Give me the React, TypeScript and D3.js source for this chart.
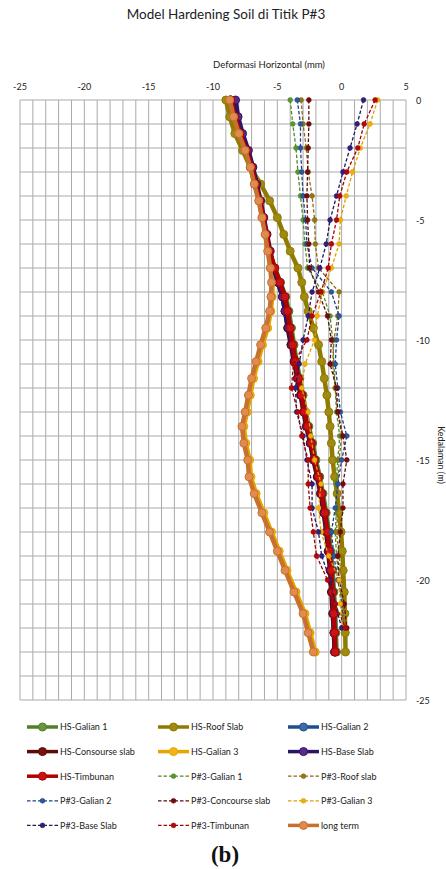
import { useMemo } from "react";
import * as d3 from "d3";

const WIDTH = 446;
const HEIGHT = 869;
const PLOT = { left: 20, right: 406, top: 100, bottom: 700 };
const FONT = "Lato, 'Open Sans', sans-serif";

// depth (m) of the PLAXIS nodes and of the inclinometer readings
const HS_DEPTH = [0, -0.7, -1.4, -2.1, -2.8, -3.5, -4.2, -4.9, -5.6, -6.3, -7.0, -7.6, -8.2, -8.8, -9.5, -10.2, -10.9, -11.6, -12.3, -13.0, -13.6, -14.3, -15.0, -15.7, -16.4, -17.2, -18.0, -18.8, -19.6, -20.5, -21.4, -22.2, -23.0];
const P3_DEPTH = [0, -1, -2, -3, -4, -5, -6, -7, -8, -9, -10, -11, -12, -13, -14, -15, -16, -17, -18, -19, -20, -21, -22];

// horizontal deformation (mm)
const HS_GALIAN1 = [-8.7, -8.4, -8.0, -7.5, -7.1, -6.75, -6.4, -6.15, -5.9, -5.6, -5.2, -4.75, -4.35, -4.1, -3.9, -3.7, -3.5, -3.25, -3.0, -2.8, -2.55, -2.25, -2.0, -1.7, -1.45, -1.2, -1.0, -0.85, -0.7, -0.6, -0.5, -0.45, -0.4];
const HS_ROOF_SLAB = [-9.0, -8.7, -8.3, -7.7, -7.1, -6.3, -5.6, -5.0, -4.5, -4.0, -3.4, -3.1, -2.9, -2.6, -2.2, -1.8, -1.55, -1.35, -1.15, -1.0, -0.9, -0.8, -0.7, -0.55, -0.35, -0.2, -0.05, 0.05, 0.12, 0.2, 0.25, 0.28, 0.3];
const HS_GALIAN2 = [-8.6, -8.3, -7.9, -7.45, -7.05, -6.7, -6.35, -6.1, -5.85, -5.6, -5.25, -4.85, -4.45, -4.25, -4.05, -3.85, -3.6, -3.35, -3.1, -2.9, -2.65, -2.35, -2.1, -1.8, -1.55, -1.3, -1.1, -0.95, -0.8, -0.7, -0.6, -0.55, -0.5];
const HS_CONCOURSE = [-8.65, -8.35, -7.95, -7.45, -7.05, -6.75, -6.4, -6.15, -5.9, -5.65, -5.3, -4.95, -4.6, -4.4, -4.2, -3.95, -3.7, -3.45, -3.2, -2.95, -2.75, -2.45, -2.2, -1.9, -1.65, -1.4, -1.2, -1.05, -0.9, -0.8, -0.7, -0.6, -0.55];
const HS_GALIAN3 = [-8.6, -8.3, -7.9, -7.4, -7.0, -6.7, -6.35, -6.1, -5.85, -5.65, -5.45, -5.35, -5.4, -5.5, -5.75, -6.15, -6.5, -6.85, -7.1, -7.35, -7.6, -7.45, -7.15, -7.05, -6.65, -6.05, -5.45, -4.85, -4.25, -3.55, -2.85, -2.45, -2.05];
const HS_BASE_SLAB = [-8.25, -8.05, -7.7, -7.25, -6.9, -6.6, -6.3, -6.05, -5.8, -5.55, -5.3, -4.95, -4.6, -4.4, -4.15, -3.9, -3.65, -3.4, -3.15, -2.95, -2.7, -2.4, -2.15, -1.85, -1.6, -1.35, -1.15, -1.0, -0.85, -0.75, -0.65, -0.6, -0.55];
const HS_TIMBUNAN = [-8.6, -8.3, -7.9, -7.4, -7.0, -6.7, -6.35, -6.1, -5.85, -5.6, -5.2, -4.8, -4.4, -4.2, -4.0, -3.8, -3.6, -3.35, -3.1, -2.9, -2.65, -2.35, -2.1, -1.8, -1.55, -1.3, -1.1, -0.95, -0.8, -0.7, -0.6, -0.55, -0.5];
const LONG_TERM = [-8.7, -8.4, -8.0, -7.5, -7.1, -6.8, -6.45, -6.2, -5.95, -5.75, -5.55, -5.45, -5.5, -5.6, -5.9, -6.3, -6.65, -7.0, -7.25, -7.5, -7.75, -7.6, -7.3, -7.2, -6.8, -6.2, -5.6, -5.0, -4.4, -3.7, -3.0, -2.6, -2.2];

const P3_GALIAN1 = [-4.0, -3.8, -3.55, -3.4, -3.2, -3.0, -2.85, -2.65, -1.5, -0.9, -0.7, -0.6, -0.5, -0.4, -0.15, -0.3, -0.45, -0.4, -0.5, -0.4, -0.2, 0.0, 0.1];
const P3_ROOF_SLAB = [-3.15, -3.0, -2.75, -2.6, -2.3, -2.1, -2.05, -1.8, -0.2, -0.3, -0.6, -0.7, -0.5, -0.3, 0.0, -0.2, -0.3, -0.3, -0.4, -0.2, 0.0, 0.1, 0.2];
const P3_GALIAN2 = [-3.45, -3.2, -3.2, -3.1, -3.0, -2.8, -2.7, -2.3, -0.8, -0.2, -0.4, -0.5, -0.3, -0.1, 0.4, 0.0, -0.3, -0.5, -0.8, -0.6, -0.3, 0.0, 0.1];
const P3_CONCOURSE = [-2.55, -2.55, -2.6, -2.65, -2.7, -2.65, -2.55, -2.5, -1.8, -1.1, -0.8, -0.9, -0.4, -0.3, 0.1, 0.4, 0.1, 0.1, -0.1, -0.3, -0.2, 0.2, 0.4];
const P3_GALIAN3 = [2.8, 2.2, 1.45, 0.85, 0.35, -0.1, -0.2, -0.8, -1.5, -1.9, -2.1, -2.85, -3.1, -2.6, -2.4, -2.1, -1.6, -1.8, -1.6, -1.0, -0.2, -0.1, 0.1];
const P3_BASE_SLAB = [1.7, 1.2, 0.65, 0.1, -0.4, -0.9, -1.2, -1.7, -2.3, -2.6, -3.0, -3.3, -3.6, -3.5, -3.0, -2.7, -2.3, -2.3, -1.8, -1.55, -0.9, -0.5, 0.0];
const P3_TIMBUNAN = [2.6, 1.75, 1.25, 0.4, -0.15, -0.4, -0.8, -1.05, -1.6, -2.3, -2.7, -3.75, -3.9, -3.4, -3.1, -2.6, -2.6, -2.45, -2.2, -1.95, -1.1, -0.5, 0.3];

const X_TICKS = [-25, -20, -15, -10, -5, 0, 5];
const Y_TICKS = [0, -5, -10, -15, -20, -25];

// legend order = drawing order
const SERIES = [
  { name: "HS-Galian 1", values: HS_GALIAN1, depth: HS_DEPTH, kind: "hs", line: "#4f7f27", marker: "#6b9440" },
  { name: "HS-Roof Slab", values: HS_ROOF_SLAB, depth: HS_DEPTH, kind: "hs", line: "#8f7b00", marker: "#a08a12" },
  { name: "HS-Galian 2", values: HS_GALIAN2, depth: HS_DEPTH, kind: "hs", line: "#1f4e8c", marker: "#3b6ea5" },
  { name: "HS-Consourse slab", values: HS_CONCOURSE, depth: HS_DEPTH, kind: "hs", line: "#5c0a0a", marker: "#7a1010" },
  { name: "HS-Galian 3", values: HS_GALIAN3, depth: HS_DEPTH, kind: "hs", line: "#e6a600", marker: "#f2b31a" },
  { name: "HS-Base Slab", values: HS_BASE_SLAB, depth: HS_DEPTH, kind: "hs", line: "#2a1666", marker: "#5a2a8a" },
  { name: "HS-Timbunan", values: HS_TIMBUNAN, depth: HS_DEPTH, kind: "hs", line: "#b00000", marker: "#c81414" },
  { name: "P#3-Galian 1", values: P3_GALIAN1, depth: P3_DEPTH, kind: "p3", line: "#4f8a2b", marker: "#5a9630" },
  { name: "P#3-Roof slab", values: P3_ROOF_SLAB, depth: P3_DEPTH, kind: "p3", line: "#8a6a14", marker: "#8f7a10" },
  { name: "P#3-Galian 2", values: P3_GALIAN2, depth: P3_DEPTH, kind: "p3", line: "#1f3f86", marker: "#2a5a9a" },
  { name: "P#3-Concourse slab", values: P3_CONCOURSE, depth: P3_DEPTH, kind: "p3", line: "#5a0d0d", marker: "#7a0a0a" },
  { name: "P#3-Galian 3", values: P3_GALIAN3, depth: P3_DEPTH, kind: "p3", line: "#e0a000", marker: "#eeb010" },
  { name: "P#3-Base Slab", values: P3_BASE_SLAB, depth: P3_DEPTH, kind: "p3", line: "#1a1a5c", marker: "#3c1a80" },
  { name: "P#3-Timbunan", values: P3_TIMBUNAN, depth: P3_DEPTH, kind: "p3", line: "#a30000", marker: "#b00a0a" },
  { name: "long term", values: LONG_TERM, depth: HS_DEPTH, kind: "hs", line: "#c8712f", marker: "#e08b50" },
];

const LEGEND_COLS = [27, 158, 288];
const LEGEND_TOP = 727;
const LEGEND_ROW = 24.6;

function Marker({ cx, cy, kind, s }) {
  const hs = kind === "hs";
  return <circle cx={cx} cy={cy} r={hs ? 4 : 2.4} fill={s.marker} stroke={s.line} strokeWidth={hs ? 1 : 0.6} />;
}

export default function App() {
  const x = useMemo(() => d3.scaleLinear().domain([-25, 5]).range([PLOT.left, PLOT.right]), []);
  const y = useMemo(() => d3.scaleLinear().domain([0, -25]).range([PLOT.top, PLOT.bottom]), []);
  const xGrid = useMemo(() => d3.range(-25, 5.001, 1), []);
  const yGrid = useMemo(() => d3.range(0, -25.001, -1), []);

  const paths = useMemo(
    () =>
      SERIES.map((s) => {
        const pts = s.values.map((v, i) => [x(v), y(s.depth[i])]);
        return { s, pts, d: d3.line()(pts) };
      }),
    [x, y],
  );

  return (
    <svg width={WIDTH} height={HEIGHT} style={{ position: "absolute", left: 0, top: 0, background: "#fff" }} fontFamily={FONT}>
      <rect width={WIDTH} height={HEIGHT} fill="#fff" />
      <text x={226} y={19} textAnchor="middle" fontSize={13.5} fill="#222">
        Model Hardening Soil di Titik P#3
      </text>
      <text x={269} y={68} textAnchor="middle" fontSize={9.5} fill="#222">
        Deformasi Horizontal (mm)
      </text>

      {xGrid.map((v) => (
        <line key={`gx${v}`} x1={x(v)} x2={x(v)} y1={PLOT.top} y2={PLOT.bottom} stroke="#a9a9a9" strokeWidth={1} />
      ))}
      {yGrid.map((v) => (
        <line key={`gy${v}`} x1={PLOT.left} x2={PLOT.right} y1={y(v)} y2={y(v)} stroke="#a9a9a9" strokeWidth={1} />
      ))}

      {X_TICKS.map((t) => (
        <text key={`xt${t}`} x={x(t)} y={90} textAnchor="middle" fontSize={9} fill="#222">
          {t}
        </text>
      ))}
      {Y_TICKS.map((t) => (
        <text key={`yt${t}`} x={416} y={y(t) + 3.5} fontSize={9} fill="#222">
          {t}
        </text>
      ))}
      <text transform={`translate(438 455) rotate(90)`} textAnchor="middle" fontSize={9} fill="#222">
        Kedalaman (m)
      </text>

      {paths.map(({ s, pts, d }) => (
        <g key={s.name}>
          <path
            d={d}
            fill="none"
            stroke={s.line}
            strokeWidth={s.kind === "hs" ? 4.5 : 1.3}
            strokeDasharray={s.kind === "hs" ? null : "3.5 2"}
            strokeLinejoin="round"
          />
          {pts.map(([px, py], i) => (
            <Marker key={i} cx={px} cy={py} kind={s.kind} s={s} />
          ))}
        </g>
      ))}

      {SERIES.map((s, i) => {
        const cx = LEGEND_COLS[i % 3];
        const cy = LEGEND_TOP + Math.floor(i / 3) * LEGEND_ROW;
        const hs = s.kind === "hs";
        return (
          <g key={`lg${s.name}`}>
            <line
              x1={cx}
              x2={cx + 31}
              y1={cy}
              y2={cy}
              stroke={s.line}
              strokeWidth={hs ? 3.5 : 1.3}
              strokeDasharray={hs ? null : "3.5 2"}
            />
            <Marker cx={cx + 15.5} cy={cy} kind={s.kind} s={s} />
            <text x={cx + 33} y={cy + 3.3} fontSize={9} fill="#222">
              {s.name}
            </text>
          </g>
        );
      })}

      <text x={225} y={862} textAnchor="middle" fontSize={23} fontWeight="bold" fontFamily="'Liberation Serif', serif" fill="#111">
        (b)
      </text>
    </svg>
  );
}
